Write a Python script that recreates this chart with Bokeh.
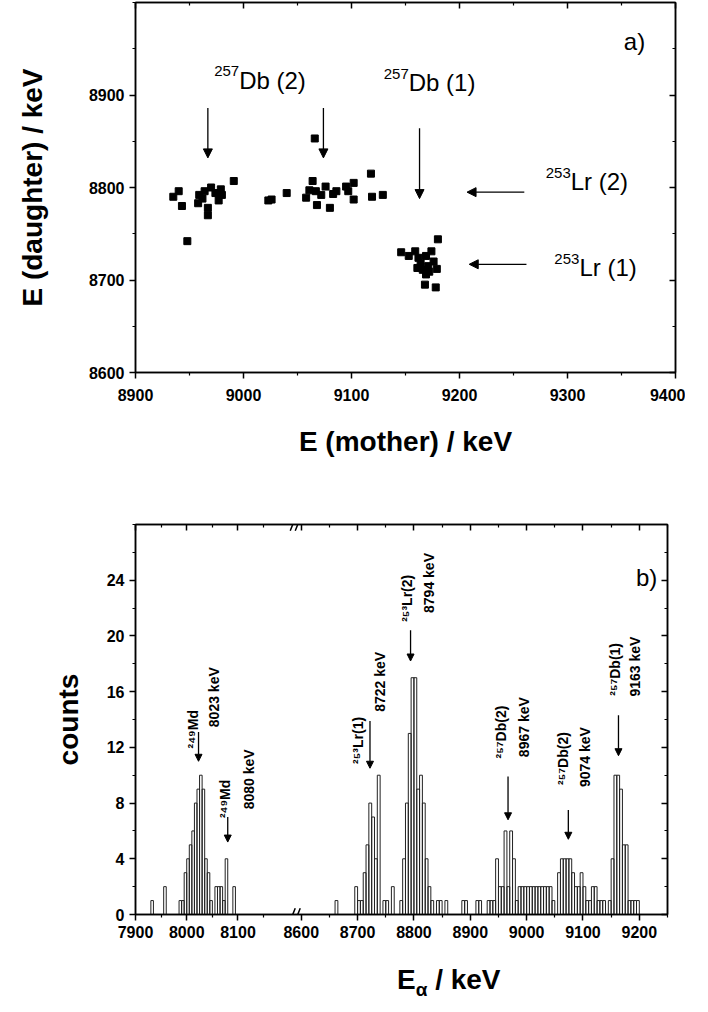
import math
from bokeh.plotting import figure
from bokeh.layouts import column
from bokeh.models import (FixedTicker, LinearAxis, Range1d, Arrow, NormalHead, Div,
                          ColumnDataSource, CustomJSTickFormatter)
from bokeh.core.properties import value
from bokeh.embed import file_html
from bokeh.resources import INLINE

FONT = "Liberation Sans"

# ---------------- panel a) data ----------------
mother_keV = [8940, 8935, 8943, 8948, 8959, 8958, 8964, 8967, 8967, 8970, 8974, 8977, 8980, 8979, 8991, 8962,
              9023, 9026, 9040, 9058, 9066, 9064, 9067, 9068, 9072, 9076, 9080, 9083, 9086, 9095, 9097, 9102,
              9102, 9118, 9119, 9129, 9061,
              9180, 9146, 9153, 9159, 9162, 9164, 9169, 9174, 9176, 9171, 9161, 9179, 9169, 9168, 9178, 9166, 9172]
daughter_keV = [8796, 8790, 8780, 8742, 8792, 8783, 8796, 8770, 8778, 8800, 8794, 8786, 8792, 8798, 8807, 8788,
                8786, 8787, 8794, 8789, 8853, 8807, 8796, 8781, 8792, 8801, 8778, 8793, 8796, 8801, 8796, 8805,
                8787, 8815, 8790, 8792, 8797,
                8744, 8730, 8726, 8731, 8724, 8718, 8726, 8731, 8720, 8715, 8713, 8712, 8706, 8695, 8692, 8711, 8709]

xa_major = [8900, 9000, 9100, 9200, 9300, 9400]
xa_minor = [8950, 9050, 9150, 9250, 9350]
ya_major = [8600, 8700, 8800, 8900]
ya_minor = [8650, 8750, 8850, 8950, 9000]

a_arrow_x0 = [8967, 9074, 9163, 9260, 9262]
a_arrow_y0 = [8886, 8886, 8864, 8795, 8717]
a_arrow_x1 = [8967, 9074, 9163, 9207, 9209]
a_arrow_y1 = [8832, 8832, 8788, 8795, 8717]

a_label_main = ["Db (2)", "Db (1)", "Lr (2)", "Lr (1)"]
a_label_mass = ["257", "257", "253", "253"]
a_label_x = [8996, 9153, 9303, 9311]
a_label_y = [8916, 8913, 8806, 8713]

# ---------------- panel b) data ----------------
BIN_WIDTH = 5
hist_bin_keV = [7930, 7955, 7985, 7990, 7995, 8000, 8005, 8010, 8015, 8020, 8025, 8030, 8035, 8040, 8045,
                8055, 8060, 8065, 8070, 8075, 8090,
                8660, 8695, 8700, 8705, 8710, 8715, 8720, 8725, 8730, 8735, 8745, 8750, 8760,
                8775, 8780, 8785, 8790, 8795, 8800, 8805, 8810, 8815, 8820, 8825, 8830,
                8840, 8845, 8855, 8885, 8890, 8910, 8915, 8930, 8935, 8940,
                8945, 8950, 8955, 8960, 8965, 8970, 8975, 8980,
                8985, 8990, 8995, 9000, 9005, 9010, 9015, 9020, 9025, 9030, 9035, 9040, 9045,
                9055, 9060, 9065, 9070, 9075, 9080, 9085, 9090, 9095, 9100, 9105, 9110, 9115, 9120,
                9125, 9130, 9135, 9145,
                9150, 9155, 9160, 9165, 9170, 9175, 9180, 9185, 9190, 9195]
hist_counts = [1, 2, 1, 1, 3, 4, 5, 6, 8, 9, 10, 9, 4, 3, 1,
               2, 2, 2, 1, 4, 2,
               1, 2, 1, 1, 3, 5, 8, 7, 4, 10, 1, 1, 2,
               1, 4, 8, 13, 17, 17, 9, 10, 8, 4, 2, 1,
               1, 1, 1, 1, 1, 1, 1, 1, 1, 1,
               4, 2, 2, 6, 2, 6, 4, 1,
               2, 2, 2, 2, 2, 2, 2, 2, 2, 2, 2, 2, 1,
               3, 4, 4, 4, 4, 3, 2, 2, 3, 2, 1, 1, 2, 2,
               1, 1, 1, 1,
               4, 10, 10, 9, 5, 5, 1, 1, 1, 1]

xb_major = [7900, 8000, 8100, 8600, 8700, 8800, 8900, 9000, 9100, 9200]
xb_minor = [7950, 8050, 8150, 8650, 8750, 8850, 8950, 9050, 9150, 9250]
yb_major = [0, 4, 8, 12, 16, 20, 24]
yb_minor = [2, 6, 10, 14, 18, 22, 26, 28]

peak_energy = [8023, 8080, 8722, 8794, 8967, 9074, 9163]
peak_isotope = ["\u00b2\u2074\u2079Md", "\u00b2\u2074\u2079Md", "\u00b2\u2075\u00b3Lr(1)", "\u00b2\u2075\u00b3Lr(2)",
                "\u00b2\u2075\u2077Db(2)", "\u00b2\u2075\u2077Db(2)", "\u00b2\u2075\u2077Db(1)"]
peak_arrow_top = [13.1, 7.0, 13.9, 20.4, 9.9, 7.5, 14.3]
peak_arrow_tip = [11.0, 5.2, 10.5, 18.2, 6.8, 5.4, 11.4]
iso_label_x = [8012, 8074, 8701, 8787, 8955, 9064, 9156]
iso_label_y = [13.3, 8.3, 12.5, 22.7, 13.1, 11.2, 17.6]
e_label_x = [8054, 8122, 8740, 8826, 8995, 9103, 9192]
e_label_y = [15.6, 9.7, 16.7, 23.8, 13.45, 11.3, 17.8]

# broken-axis mapping for panel b
SEG1 = (7900.0, 8200.0)
SEG2 = (8600.0, 9250.0)
SCALE1, SCALE2, GAP = 0.512, 0.563, 12.0


def u(e):
    if e < 8400:
        return (e - SEG1[0]) * SCALE1
    return (SEG1[1] - SEG1[0]) * SCALE1 + GAP + (e - SEG2[0]) * SCALE2


def style_axis(ax, labels=True, inward=False):
    ax.axis_line_color = "black"
    ax.axis_line_width = 1.5
    ax.major_tick_line_color = "black"
    ax.minor_tick_line_color = "black"
    ax.major_tick_line_width = 1.5
    ax.minor_tick_line_width = 1.2
    if inward:
        ax.major_tick_in, ax.major_tick_out = 6, 0
        ax.minor_tick_in, ax.minor_tick_out = 3, 0
    else:
        ax.major_tick_in, ax.major_tick_out = 0, 6
        ax.minor_tick_in, ax.minor_tick_out = 0, 3
    if labels:
        ax.major_label_text_font = FONT
        ax.major_label_text_font_size = "16px"
        ax.major_label_text_font_style = "bold"
        ax.major_label_text_color = "black"
        ax.major_label_standoff = 5
    else:
        ax.formatter = CustomJSTickFormatter(code="return ''")
        ax.major_label_text_font_size = "1px"
        ax.major_label_standoff = 0
    ax.axis_label_text_font = FONT
    ax.axis_label_text_font_style = "bold"
    ax.axis_label_text_font_size = "28px"
    ax.axis_label_text_color = "black"


def mirror(p, xticker, yticker):
    top = LinearAxis(ticker=xticker)
    style_axis(top, labels=False, inward=True)
    p.add_layout(top, "above")
    right = LinearAxis(ticker=yticker)
    style_axis(right, labels=False, inward=True)
    p.add_layout(right, "right")


# ================= panel a =================
p1 = figure(frame_width=540, frame_height=370, min_border_left=125, min_border_right=20,
            min_border_top=2, min_border_bottom=100,
            x_range=Range1d(8900, 9400), y_range=Range1d(8600, 9000),
            output_backend="svg", toolbar_location=None)
p1.xgrid.visible = False
p1.ygrid.visible = False
p1.outline_line_color = "black"
p1.outline_line_width = 1.5

xa_ticker = FixedTicker(ticks=xa_major, minor_ticks=xa_minor)
ya_ticker = FixedTicker(ticks=ya_major, minor_ticks=ya_minor)
p1.xaxis[0].ticker = xa_ticker
p1.yaxis[0].ticker = ya_ticker
style_axis(p1.xaxis[0])
style_axis(p1.yaxis[0])
p1.xaxis[0].axis_label = "E (mother) / keV"
p1.yaxis[0].axis_label = "E (daughter) / keV"
p1.xaxis[0].major_label_standoff = 10
p1.xaxis[0].axis_label_standoff = 22
p1.yaxis[0].axis_label_standoff = 38
mirror(p1, xa_ticker, ya_ticker)

p1.scatter(mother_keV, daughter_keV, marker="square", size=7, color="black")

p1.add_layout(Arrow(end=NormalHead(size=9, fill_color="black", line_color="black", line_width=1),
                    source=ColumnDataSource(dict(x0=a_arrow_x0, y0=a_arrow_y0, x1=a_arrow_x1, y1=a_arrow_y1)),
                    x_start="x0", y_start="y0", x_end="x1", y_end="y1",
                    line_width=1.3, line_color="black"))

p1.text(x=a_label_x, y=a_label_y, text=a_label_main, text_align="left", text_baseline="middle",
        text_font=value(FONT), text_font_size="24px", text_color="black")
p1.text(x=a_label_x, y=[y + 10 for y in a_label_y], text=a_label_mass, text_align="right",
        text_baseline="middle", text_font=value(FONT), text_font_size="15px", text_color="black")
p1.text(x=[9362], y=[8958], text=["a)"], text_align="center", text_baseline="middle",
        text_font=value(FONT), text_font_size="24px", text_color="black")

# ================= panel b =================
p2 = figure(frame_width=532, frame_height=390, min_border_left=135, min_border_right=20,
            min_border_top=52, min_border_bottom=38,
            x_range=Range1d(0, u(SEG2[1])), y_range=Range1d(0, 28),
            output_backend="svg", toolbar_location=None)
p2.xgrid.visible = False
p2.ygrid.visible = False
p2.outline_line_color = "black"
p2.outline_line_width = 1.5

major_u = [u(t) for t in xb_major]
xb_ticker = FixedTicker(ticks=major_u, minor_ticks=[u(t) for t in xb_minor])
yb_ticker = FixedTicker(ticks=yb_major, minor_ticks=yb_minor)
p2.xaxis[0].ticker = xb_ticker
p2.xaxis[0].formatter = CustomJSTickFormatter(
    args=dict(us=major_u, labels=[str(t) for t in xb_major]),
    code="""
    let best = 0, bd = 1e9;
    for (let i = 0; i < us.length; i++) { const d = Math.abs(us[i] - tick); if (d < bd) { bd = d; best = i; } }
    return labels[best];
    """)
p2.yaxis[0].ticker = yb_ticker
style_axis(p2.xaxis[0])
style_axis(p2.yaxis[0])
p2.yaxis[0].axis_label = "counts"
p2.yaxis[0].axis_label_standoff = 20
mirror(p2, xb_ticker, yb_ticker)

# histogram (outlined columns)
src_h = ColumnDataSource(dict(
    left=[u(b) for b in hist_bin_keV],
    right=[u(b + BIN_WIDTH) for b in hist_bin_keV],
    top=hist_counts,
    bottom=[0] * len(hist_counts)))
p2.quad(left="left", right="right", top="top", bottom="bottom", source=src_h,
        fill_color=None, line_color="#222222", line_width=1)

# peak arrows
p2.add_layout(Arrow(end=NormalHead(size=7, fill_color="black", line_color="black", line_width=1),
                    source=ColumnDataSource(dict(x0=[u(e) for e in peak_energy], y0=peak_arrow_top,
                                                 x1=[u(e) for e in peak_energy], y1=peak_arrow_tip)),
                    x_start="x0", y_start="y0", x_end="x1", y_end="y1",
                    line_width=1.3, line_color="black"))

# rotated labels
p2.text(x=[u(e) for e in iso_label_x], y=iso_label_y, text=peak_isotope, angle=math.pi / 2,
        text_align="center", text_baseline="middle", text_font=value(FONT),
        text_font_size="14px", text_font_style="bold", text_color="black")
p2.text(x=[u(e) for e in e_label_x], y=e_label_y, text=[f"{e} keV" for e in peak_energy],
        angle=math.pi / 2, text_align="center", text_baseline="middle", text_font=value(FONT),
        text_font_size="14px", text_font_style="bold", text_color="black")
p2.text(x=[u(9213)], y=[24.2], text=["b)"], text_align="center", text_baseline="middle",
        text_font=value(FONT), text_font_size="24px", text_color="black")

# axis break marks
ub = (u(SEG1[1]) + u(SEG2[0])) / 2
for yb in (0, 28):
    for du in (-2.5, 2.5):
        p2.add_layout(Arrow(end=None, x_start=ub + du - 2.5, y_start=yb - 0.45,
                            x_end=ub + du + 2.5, y_end=yb + 0.45, line_width=1.5, line_color="black"))

# x-axis title of panel b (E with subscript alpha)
xtitle = Div(
    text=('<div style="font-family: \'Liberation Sans\'; font-weight: bold; font-size: 28px; '
          'color: black; padding-left: 392px; padding-top: 6px; line-height: 34px; white-space: nowrap;">'
          'E<sub style="font-size: 19px;">\u03b1</sub> / keV</div>'),
    width=687, height=42)

layout = column(p1, p2, xtitle, spacing=0)
open("out.html", "w").write(file_html(layout, INLINE))
